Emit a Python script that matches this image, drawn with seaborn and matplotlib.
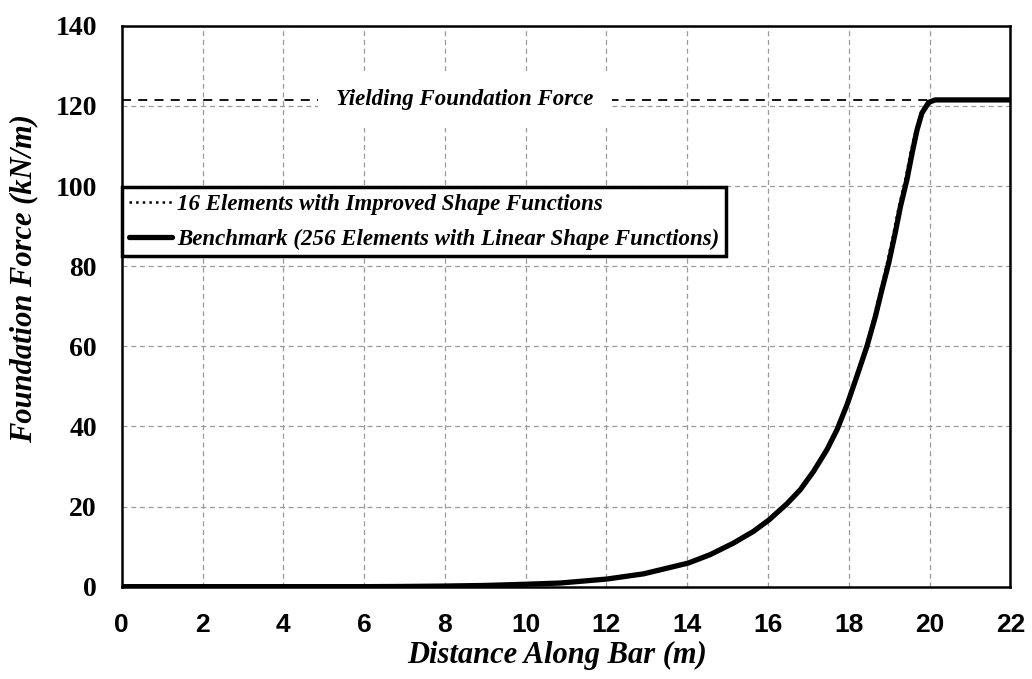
import numpy as np
import pandas as pd
import seaborn as sns
import matplotlib.pyplot as plt

# values
dist = [0, 2, 4, 6, 7, 8, 9, 10, 10.85, 12.01, 12.92, 14.03, 14.57, 15.15,
        15.64, 16.03, 16.47, 16.80, 17.13, 17.46, 17.71, 17.96, 18.20, 18.45,
        18.66, 18.82, 18.99, 19.15, 19.28, 19.44, 19.57, 19.69, 19.81, 19.98,
        20.14, 21, 22]
force_bench = [0, 0, 0, 0, 0.05, 0.15, 0.3, 0.6, 0.9, 1.9, 3.2, 5.9, 8.0, 10.9,
               13.8, 16.7, 20.7, 24.2, 28.8, 34.2, 39.2, 45.5, 52.5, 60.0,
               67.5, 74.1, 80.8, 88.3, 94.9, 101.6, 108.3, 114.0, 118.2, 120.9,
               121.5, 121.5, 121.5]
dist16 = [0, 2, 4, 6, 7, 8, 9, 10, 10.85, 12.01, 12.92, 14.03, 14.57, 15.15,
          15.64, 16.03, 16.47, 16.80, 17.13, 17.46, 17.71, 17.96, 18.20, 18.43,
          18.63, 18.79, 18.95, 19.11, 19.24, 19.40, 19.53, 19.66, 19.79, 19.97,
          20.14, 21, 22]
force_16 = [0, 0, 0, 0, 0.05, 0.15, 0.3, 0.6, 0.9, 1.9, 3.2, 5.9, 8.0, 10.9,
            13.8, 16.7, 20.7, 24.2, 28.8, 34.2, 39.2, 45.5, 52.5, 60.0,
            67.5, 74.1, 80.8, 88.3, 94.9, 101.6, 108.3, 114.0, 118.2, 120.9,
            121.5, 121.5, 121.5]
yield_force = 121.6
yield_x = [0, 20]
x_ticks = list(range(0, 23, 2))
y_ticks = list(range(0, 141, 20))

sns.set_style("white")
plt.rcParams['font.family'] = ['Liberation Serif', 'DejaVu Serif']
plt.rcParams['text.color'] = 'black'
plt.rcParams['axes.labelcolor'] = 'black'
plt.rcParams['xtick.labelcolor'] = 'black'
plt.rcParams['ytick.labelcolor'] = 'black'

fig, ax = plt.subplots(figsize=(10.32, 6.79), dpi=100)
fig.subplots_adjust(left=0.118, right=0.979, top=0.962, bottom=0.136)

ax.grid(True, color='#9a9a9a', linestyle=(0, (4, 3)), linewidth=0.9)
ax.set_axisbelow(True)

# yield line
ax.plot(yield_x, [yield_force, yield_force], color='black', linestyle=(0, (5, 4)),
        linewidth=1.3, zorder=2)
ax.text(8.5, yield_force, 'Yielding Foundation Force', ha='center', va='center',
        fontsize=16.5, fontweight='bold', fontstyle='italic', zorder=3,
        color='black', bbox=dict(facecolor='white', edgecolor='none', pad=13))

df_b = pd.DataFrame({'x': dist, 'y': force_bench})
df_16 = pd.DataFrame({'x': dist16, 'y': force_16})
sns.lineplot(data=df_b, x='x', y='y', ax=ax, color='black', linewidth=3.8,
             label='Benchmark (256 Elements with Linear Shape Functions)',
             sort=False, zorder=4)
sns.lineplot(data=df_16, x='x', y='y', ax=ax, color='black', linewidth=1.8,
             linestyle=':', label='16 Elements with Improved Shape Functions',
             sort=False, zorder=5)

ax.set_xlim(0, 22)
ax.set_ylim(0, 140)
ax.set_xticks(x_ticks, labels=[str(v) for v in x_ticks], fontsize=19,
              fontweight='bold', color='black',
              family=['Liberation Sans Narrow', 'Liberation Sans', 'DejaVu Sans'])
ax.set_yticks(y_ticks, labels=[str(v) for v in y_ticks], fontsize=20,
              fontweight='bold', color='black')
ax.tick_params(axis='both', direction='out', length=6, width=1, color='#888888')
ax.tick_params(axis='y', pad=12)
ax.tick_params(axis='x', pad=13)

ax.set_xlabel('Distance Along Bar (m)', fontsize=22, fontweight='bold',
              fontstyle='italic', color='black')
ax.xaxis.set_label_coords(0.49, -0.097)
ax.set_ylabel('Foundation Force (kN/m)', fontsize=22, fontweight='bold',
              fontstyle='italic', color='black')
ax.yaxis.set_label_coords(-0.094, 0.55)

for side in ['left', 'right', 'top', 'bottom']:
    ax.spines[side].set_color('black')
    ax.spines[side].set_linewidth(1.8)

handles, labels = ax.get_legend_handles_labels()
leg = ax.legend(handles[::-1], labels[::-1], loc='upper left',
                bbox_to_anchor=(0.0, 0.713), frameon=True, fancybox=False,
                prop={'family': 'Liberation Serif', 'weight': 'bold',
                      'style': 'italic', 'size': 16.5},
                handlelength=1.9, handletextpad=0.2, borderpad=0.3,
                labelspacing=0.6, borderaxespad=0, framealpha=1)
leg.get_frame().set_edgecolor('black')
leg.get_frame().set_linewidth(2.5)
for t in leg.get_texts():
    t.set_color('black')

fig.savefig('out.png', dpi=100)
